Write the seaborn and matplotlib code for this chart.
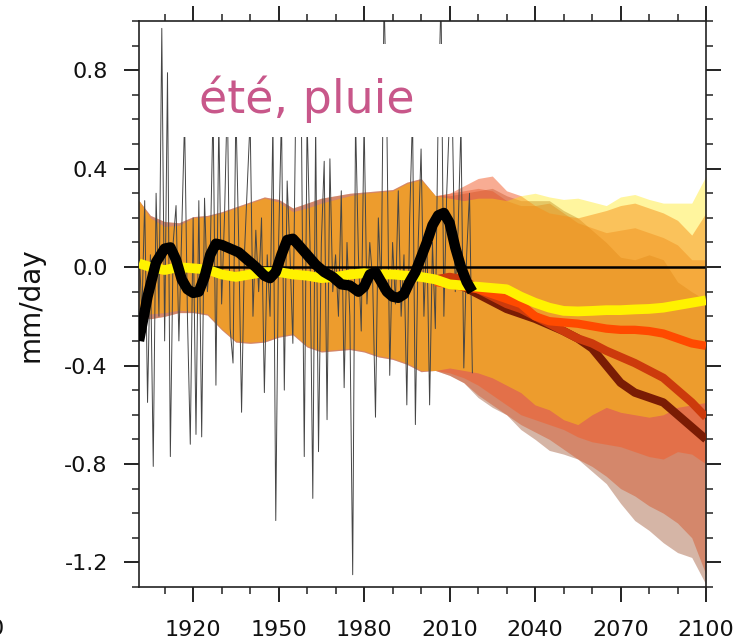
import numpy as np
import pandas as pd
import matplotlib
matplotlib.use("Agg")
import matplotlib.pyplot as plt
from matplotlib.patches import Rectangle
import seaborn as sns

# ---------------- data ----------------
obs_years = list(range(1901, 2019))
obs_values = [
    0.10, -0.20, 0.27, -0.55, 0.05, -0.81, 0.30, -0.20, 0.97, -0.30,
    0.79, -0.77, 0.10, 0.25, -0.30, 0.15, 0.60, -0.20, -0.72, 0.20,
    -0.68, 0.27, -0.69, 0.28, -0.10, 0.05, 0.65, -0.48, 0.60, -0.15,
    0.20, 0.70, -0.25, -0.39, 0.65, 0.10, -0.59, 0.05, 0.33, 0.60,
    -0.20, 0.15, -0.10, 0.20, -0.51, 0.05, -0.20, 0.60, -1.03, 0.10,
    0.62, -0.50, 0.35, 0.05, -0.31, 0.65, 0.55, 0.60, -0.77, 0.60,
    0.10, -0.94, 0.58, -0.75, 0.10, 0.43, -0.62, 0.44, -0.10, 0.05,
    -0.20, 0.31, -0.49, 0.10, -0.20, -1.25, 0.60, 0.05, -0.26, 0.60,
    -0.15, 0.10, -0.05, -0.61, 0.20, -0.10, 1.10, 0.58, -0.44, 0.10,
    -0.15, 0.31, -0.20, 0.05, -0.56, 0.20, 0.62, -0.64, 0.10, 0.48,
    -0.20, 0.15, -0.56, 0.10, -0.25, 0.62, 1.10, -0.20, 0.30, 0.62,
    0.60, -0.10, 0.15, 0.58, -0.41, 0.05, 0.30, -0.43,
]

smooth_years = [1901, 1904, 1907, 1910, 1912, 1914, 1916, 1918, 1920, 1922,
                1924, 1926, 1928, 1930, 1933, 1936, 1939, 1942, 1945, 1947,
                1949, 1951, 1953, 1955, 1957, 1960, 1963, 1966, 1969, 1972,
                1975, 1978, 1980, 1982, 1984, 1986, 1988, 1990, 1992, 1994,
                1996, 1998, 2000, 2002, 2004, 2006, 2008, 2010, 2012, 2014,
                2016, 2018]
smooth_values = [-0.30, -0.12, 0.02, 0.075, 0.08, 0.03, -0.05, -0.09, -0.105, -0.10,
                 -0.04, 0.05, 0.095, 0.09, 0.075, 0.06, 0.03, 0.0, -0.035, -0.045,
                 -0.02, 0.05, 0.11, 0.115, 0.09, 0.05, 0.01, -0.02, -0.04, -0.07,
                 -0.075, -0.10, -0.08, -0.03, -0.02, -0.06, -0.10, -0.12, -0.125, -0.11,
                 -0.06, -0.02, 0.04, 0.10, 0.17, 0.21, 0.22, 0.18, 0.08, 0.0,
                 -0.06, -0.10]

hist_years = [1901, 1905, 1910, 1915, 1920, 1925, 1930, 1935, 1940, 1945, 1950,
              1955, 1960, 1965, 1970, 1975, 1980, 1985, 1990, 1995, 2000, 2005]
hist_mean = [0.015, 0.0, -0.012, 0.0, -0.005, -0.01, -0.03, -0.04, -0.03, -0.02, -0.02,
             -0.03, -0.035, -0.045, -0.04, -0.03, -0.025, -0.03, -0.03, -0.035, -0.04, -0.05]
hist_upper = [0.27, 0.20, 0.165, 0.17, 0.20, 0.205, 0.22, 0.24, 0.26, 0.28, 0.265,
              0.225, 0.24, 0.26, 0.275, 0.29, 0.30, 0.305, 0.31, 0.34, 0.355, 0.29]
hist_lower = [-0.195, -0.19, -0.185, -0.175, -0.18, -0.19, -0.25, -0.30, -0.305, -0.30, -0.28,
              -0.27, -0.32, -0.34, -0.335, -0.33, -0.34, -0.36, -0.37, -0.39, -0.42, -0.42]
# slightly wider historical spread of the high-emission ensembles (reddish rim)
hist_upper_rim = [0.27, 0.21, 0.185, 0.18, 0.205, 0.21, 0.225, 0.245, 0.265, 0.285, 0.275,
                  0.24, 0.26, 0.28, 0.29, 0.30, 0.305, 0.31, 0.315, 0.345, 0.36, 0.29]
hist_lower_rim = [-0.20, -0.21, -0.20, -0.185, -0.185, -0.195, -0.255, -0.305, -0.31, -0.305, -0.285,
                  -0.275, -0.325, -0.345, -0.34, -0.335, -0.345, -0.365, -0.375, -0.395, -0.425, -0.42]

fut_years = [2005, 2010, 2015, 2020, 2025, 2030, 2035, 2040, 2045, 2050,
             2055, 2060, 2065, 2070, 2075, 2080, 2085, 2090, 2095, 2100]

# scenario means
mean_yellow = [-0.06, -0.07, -0.075, -0.08, -0.085, -0.09, -0.12, -0.145, -0.165, -0.178,
               -0.18, -0.178, -0.175, -0.175, -0.172, -0.17, -0.165, -0.155, -0.145, -0.135]
mean_orange = [-0.06, -0.07, -0.08, -0.09, -0.11, -0.13, -0.15, -0.20, -0.22, -0.225,
               -0.23, -0.24, -0.25, -0.255, -0.255, -0.26, -0.27, -0.29, -0.31, -0.32]
mean_red = [-0.05, -0.04, -0.05, -0.09, -0.12, -0.15, -0.17, -0.20, -0.23, -0.26,
            -0.29, -0.31, -0.34, -0.365, -0.39, -0.42, -0.45, -0.50, -0.55, -0.61]
mean_brown = [-0.05, -0.06, -0.08, -0.11, -0.14, -0.17, -0.19, -0.21, -0.235, -0.26,
              -0.29, -0.33, -0.40, -0.47, -0.51, -0.53, -0.55, -0.60, -0.65, -0.70]

# scenario envelopes
up_yellow = [0.29, 0.28, 0.27, 0.28, 0.28, 0.27, 0.29, 0.30, 0.285, 0.275,
             0.28, 0.265, 0.25, 0.285, 0.295, 0.275, 0.26, 0.26, 0.26, 0.37]
lo_yellow = [-0.42, -0.41, -0.42, -0.43, -0.45, -0.48, -0.51, -0.56, -0.58, -0.62,
             -0.64, -0.60, -0.57, -0.59, -0.60, -0.61, -0.60, -0.57, -0.56, -0.55]
up_orange = [0.29, 0.30, 0.33, 0.36, 0.37, 0.31, 0.29, 0.25, 0.22, 0.21,
             0.20, 0.215, 0.23, 0.25, 0.26, 0.24, 0.22, 0.19, 0.13, 0.22]
lo_orange = [-0.42, -0.43, -0.45, -0.48, -0.52, -0.56, -0.60, -0.62, -0.64, -0.66,
             -0.69, -0.71, -0.72, -0.73, -0.75, -0.77, -0.78, -0.75, -0.76, -0.80]
up_red = [0.29, 0.30, 0.31, 0.32, 0.31, 0.27, 0.25, 0.25, 0.26, 0.22,
          0.18, 0.16, 0.14, 0.15, 0.16, 0.14, 0.12, 0.09, 0.03, 0.03]
lo_red = [-0.42, -0.44, -0.47, -0.52, -0.56, -0.60, -0.64, -0.67, -0.70, -0.74,
          -0.78, -0.81, -0.85, -0.90, -0.93, -0.97, -1.00, -1.04, -1.10, -1.25]
up_brown = [0.29, 0.29, 0.30, 0.31, 0.32, 0.29, 0.27, 0.27, 0.27, 0.23,
            0.20, 0.15, 0.10, 0.04, 0.03, 0.05, 0.03, -0.06, -0.10, -0.135]
lo_brown = [-0.42, -0.44, -0.47, -0.53, -0.57, -0.60, -0.66, -0.70, -0.745, -0.76,
            -0.78, -0.83, -0.88, -0.96, -1.03, -1.07, -1.12, -1.16, -1.18, -1.29]

x_major = [1920, 1950, 1980, 2010, 2040, 2070, 2100]
x_labels = ["1920", "1950", "1980", "2010", "2040", "2070", "2100"]
y_major = [-1.2, -0.8, -0.4, 0.0, 0.4, 0.8]
y_labels = ["-1.2", "-0.8", "-0.4", "0.0", "0.4", "0.8"]

title_text = "été, pluie"
ylabel_text = "mm/day"

# ---------------- style ----------------
sns.set_theme(style="ticks")
plt.rcParams["font.family"] = ["DejaVu Sans"]

fig = plt.figure(figsize=(7.56, 6.43), dpi=100)
ax = fig.add_axes([139 / 756, 1 - 587 / 643, (706 - 139) / 756, (587 - 21) / 643])

# envelopes (historical shared + scenario future), drawn with transparency
scen = [
    ("brown", up_brown, lo_brown, (140/255, 50/255, 10/255), 0.36, True),
    ("red", up_red, lo_red, (211/255, 66/255, 19/255), 0.40, True),
    ("orange", up_orange, lo_orange, (243/255, 91/255, 40/255), 0.50, False),
    ("yellow", up_yellow, lo_yellow, (255/255, 230/255, 0/255), 0.38, False),
]
for name, up, lo, col, a, rim in scen:
    yrs = hist_years + fut_years[1:]
    hu = hist_upper_rim if rim else hist_upper
    hl = hist_lower_rim if rim else hist_lower
    ax.fill_between(yrs, hl + lo[1:], hu + up[1:],
                    color=col, alpha=a, lw=0, zorder=1)

# annual observations (thin)
obs_df = pd.DataFrame({"year": obs_years, "value": obs_values})
sns.lineplot(data=obs_df, x="year", y="value", ax=ax, color="#454545",
             linewidth=0.7, estimator=None, sort=False, zorder=2)

ax.axhline(0.0, color="black", lw=1.8, zorder=2.5)

# scenario mean lines
line_specs = [
    (mean_brown, "#7a1c04", 6),
    (mean_red, "#cc3a0c", 6),
    (mean_orange, "#ff4a00", 6),
]
for vals, col, lw in line_specs:
    df = pd.DataFrame({"year": fut_years, "value": vals})
    sns.lineplot(data=df, x="year", y="value", ax=ax, color=col, linewidth=lw,
                 estimator=None, sort=False, zorder=3, solid_capstyle="butt")
ydf = pd.DataFrame({"year": hist_years + fut_years[1:], "value": hist_mean + mean_yellow[1:]})
sns.lineplot(data=ydf, x="year", y="value", ax=ax, color="#fff200", linewidth=7,
             estimator=None, sort=False, zorder=3.2, solid_capstyle="butt")

# smoothed observations
sdf = pd.DataFrame({"year": smooth_years, "value": smooth_values})
sns.lineplot(data=sdf, x="year", y="value", ax=ax, color="black", linewidth=7.5,
             estimator=None, sort=False, zorder=4, solid_capstyle="butt")

# white label box + label
ax.add_patch(Rectangle((1914.7, 0.529), 2017.1 - 1914.7, 0.907 - 0.529,
                       facecolor="white", edgecolor="none", zorder=5))
ax.text(1922.2, 0.627, title_text, color="#c8578a", fontsize=33,
        va="baseline", ha="left", zorder=6)

# axes
ax.set_xlim(1901, 2100)
ax.set_ylim(-1.3, 1.0)
ax.set_xticks(x_major)
ax.set_xticklabels(x_labels)
ax.set_xticks(np.arange(1910, 2101, 10), minor=True)
ax.set_yticks(y_major)
ax.set_yticklabels(y_labels)
ax.set_yticks(np.arange(-1.3, 1.01, 0.1), minor=True)
ax.tick_params(which="both", direction="out", top=True, right=True,
               labeltop=False, labelright=False, colors="#222222")
ax.tick_params(which="major", length=10.5, width=1.4, labelsize=16, labelcolor="#111111")
ax.tick_params(axis="y", which="major", pad=12)
ax.tick_params(axis="x", which="major", pad=13)
ax.tick_params(which="minor", length=5, width=1.1)
for s in ax.spines.values():
    s.set_linewidth(1.2)
    s.set_color("#222222")
ax.set_xlabel("")
ax.set_ylabel(ylabel_text, fontsize=20, color="#111111")
ax.yaxis.set_label_coords(-0.166, 0.499)

fig.text(4 / 756, 0.012, "0", fontsize=16, ha="right", va="baseline", color="#111111")

fig.savefig("out.png", dpi=100)
